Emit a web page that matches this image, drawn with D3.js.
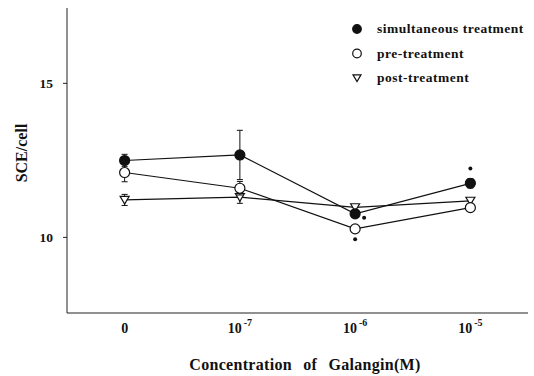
<!DOCTYPE html>
<html lang="en">
<head>
<meta charset="UTF-8">
<title>SCE/cell</title>
<script src="https://d3js.org/d3.v7.min.js"></script>
<style>
  body { margin: 0; background: #fff; }
  text { font-family: "Liberation Serif", "DejaVu Serif", serif; font-weight: bold; fill: #111; }
</style>
</head>
<body>
<div id="chart"></div>
<script>
    // data
    var concs = ["0", "-7", "-6", "-5"];
    var simultaneous = [12.48, 12.66, 10.75, 11.74];
    var simultaneousErr = [0.2, 0.8, 0.1, 0.15];
    var pre = [12.09, 11.58, 10.26, 10.95];
    var preErr = [0.3, 0.22, 0.08, 0.1];
    var post = [11.2, 11.29, 10.96, 11.17];
    var postErr = [0.18, 0.2, 0.08, 0.08];
    var yTicks = [10, 15];
    // significance marks: [concentration, value]
    var marks = [["-6", 10.62], ["-6", 9.92], ["-5", 12.22]];
    var markDx = [9, 0, 0];

    var width = 534, height = 376;
    var svg = d3.select("#chart").append("svg")
        .attr("width", width)
        .attr("height", height);

    var x = d3.scalePoint().domain(concs).range([67, 528]).padding(0.5);
    var y = d3.scaleLinear().domain([7.53, 17.43]).range([313, 8]);

    // axes
    svg.append("line")
        .attr("x1", 67).attr("x2", 67)
        .attr("y1", y(17.43)).attr("y2", y(7.53))
        .attr("stroke", "#222").attr("stroke-width", 1);
    svg.append("line")
        .attr("x1", 67).attr("x2", 528)
        .attr("y1", y(7.53)).attr("y2", y(7.53))
        .attr("stroke", "#222").attr("stroke-width", 1.2);

    var yAxis = svg.append("g")
        .attr("transform", "translate(67,0)")
        .call(d3.axisLeft(y).tickValues(yTicks).tickSize(4).tickPadding(10));
    yAxis.select(".domain").remove();
    yAxis.selectAll("line").attr("stroke", "#222");
    yAxis.selectAll("text")
        .style("font-family", "'Liberation Serif', serif")
        .style("font-weight", "bold")
        .style("font-size", "13.5px")
        .attr("fill", "#111");

    // x tick labels
    var xl = svg.append("g").selectAll("text")
        .data(concs)
        .enter().append("text")
        .attr("x", d => x(d))
        .attr("y", 333)
        .attr("text-anchor", "middle")
        .style("font-size", "14px");
    xl.each(function(d) {
        var t = d3.select(this);
        if (d === "0") { t.text("0"); return; }
        t.append("tspan").text("10");
        t.append("tspan").attr("dy", -7).attr("dx", 2).style("font-size", "10px").text(d);
    });

    svg.append("text")
        .attr("x", 305).attr("y", 370)
        .attr("text-anchor", "middle")
        .style("font-size", "16px")
        .style("word-spacing", "7px")
        .style("letter-spacing", "0.3px")
        .text("Concentration of Galangin(M)");

    svg.append("text")
        .attr("transform", "translate(27,153) rotate(-90)")
        .attr("text-anchor", "middle")
        .style("font-size", "16px")
        .text("SCE/cell");

    var series = [
        {name: "simultaneous treatment", vals: simultaneous, err: simultaneousErr, shape: "filled"},
        {name: "pre-treatment", vals: pre, err: preErr, shape: "open"},
        {name: "post-treatment", vals: post, err: postErr, shape: "tri"}
    ];

    var line = d3.line().x((d, i) => x(concs[i])).y(d => y(d));

    function drawMarker(g, shape, cx, cy, s) {
        if (shape === "tri") {
            g.append("path")
                .attr("d", "M" + (cx - s) + "," + (cy - s * 0.8) + "L" + (cx + s) + "," + (cy - s * 0.8) + "L" + cx + "," + (cy + s * 0.9) + "Z")
                .attr("fill", "#fff").attr("stroke", "#111").attr("stroke-width", 1.2);
        } else {
            g.append("circle")
                .attr("cx", cx).attr("cy", cy).attr("r", s)
                .attr("fill", shape === "filled" ? "#111" : "#fff")
                .attr("stroke", "#111").attr("stroke-width", 1.2);
        }
    }

    // lines first
    series.forEach(function(s) {
        svg.append("path")
            .datum(s.vals)
            .attr("d", line)
            .attr("fill", "none")
            .attr("stroke", "#111")
            .attr("stroke-width", 1.2);
    });

    // error bars then markers
    [series[2], series[1], series[0]].forEach(function(s) {
        var g = svg.append("g");
        s.vals.forEach(function(v, i) {
            var cx = x(concs[i]);
            var top = y(v + s.err[i]), bot = y(v - s.err[i]);
            g.append("line").attr("x1", cx).attr("x2", cx).attr("y1", top).attr("y2", bot)
                .attr("stroke", "#111").attr("stroke-width", 1);
            [top, bot].forEach(function(yy) {
                g.append("line").attr("x1", cx - 3).attr("x2", cx + 3).attr("y1", yy).attr("y2", yy)
                    .attr("stroke", "#111").attr("stroke-width", 1);
            });
            drawMarker(g, s.shape, cx, y(v), s.shape === "tri" ? 4.5 : 5);
        });
    });

    // significance marks
    svg.append("g").selectAll("circle")
        .data(marks)
        .enter().append("circle")
        .attr("cx", (d, i) => x(d[0]) + markDx[i])
        .attr("cy", d => y(d[1]))
        .attr("r", 2)
        .attr("fill", "#111");

    // legend
    var leg = svg.append("g");
    series.forEach(function(s, i) {
        var ly = 29 + i * 24.5;
        drawMarker(leg, s.shape, 357, ly, s.shape === "tri" ? 4 : 4.3);
        leg.append("text")
            .attr("x", 377).attr("y", ly + 4)
            .style("font-size", "13.5px")
            .style("letter-spacing", "0.5px")
            .text(s.name);
    });
</script>
</body>
</html>
